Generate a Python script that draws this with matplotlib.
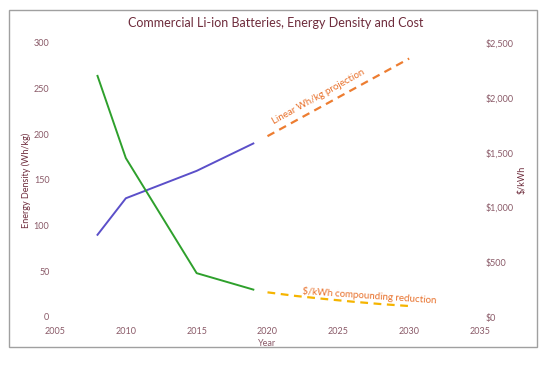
import matplotlib.pyplot as plt
from matplotlib.ticker import FuncFormatter
from matplotlib.patches import Rectangle

plt.rcParams['font.family'] = ['Lato', 'DejaVu Sans']

# energy density (Wh/kg), left axis
years_wh = [2008, 2010, 2015, 2019]
wh_kg = [90, 130, 160, 190]
# cost ($/kWh), right axis
years_cost = [2008, 2010, 2015, 2019]
cost = [2200, 1450, 400, 250]
# projections
proj_years_wh = [2020, 2030]
proj_wh = [198, 283]
proj_years_cost = [2020, 2022, 2024, 2026, 2028, 2030]
proj_cost = [225, 192, 165, 140, 118, 100]

text_col = '#8a5a68'
title_col = '#6e2c3c'
orange = '#ed7d31'
gold = '#f5b400'

fig = plt.figure(figsize=(5.51, 3.69), dpi=100)
fig.patches.append(Rectangle((9/551, 1-347/369), 528/551, 337/369, transform=fig.transFigure,
                             fill=False, edgecolor='#a0a0a0', linewidth=1))
ax = fig.add_axes([55/551, 1-317/369, 425/551, 274/369])
ax2 = ax.twinx()

ax.plot(years_wh, wh_kg, color='#5b4fc9', lw=1.4)
ax.plot(proj_years_wh, proj_wh, color=orange, lw=1.6, ls=(0, (3.5, 2.5)))
ax2.plot(years_cost, cost, color='#2ea02c', lw=1.4)
ax2.plot(proj_years_cost, proj_cost, color=gold, lw=1.6, ls=(0, (3.5, 2.5)))

ax.set_xlim(2005, 2035)
ax.set_ylim(0, 300)
ax2.set_ylim(0, 2500)
ax.set_xticks(range(2005, 2040, 5))
ax.set_yticks(range(0, 301, 50))
ax2.set_yticks(range(0, 2501, 500))
ax2.yaxis.set_major_formatter(FuncFormatter(lambda v, p: '${:,.0f}'.format(v)))

for a in (ax, ax2):
    for s in a.spines.values():
        s.set_visible(False)
    a.tick_params(length=0, labelsize=6.5, labelcolor=text_col)
ax.tick_params(axis='y', pad=4)
ax2.tick_params(axis='y', pad=4)
ax.tick_params(axis='x', pad=7)

ax.set_xlabel('Year', fontsize=6.5, color=text_col, labelpad=2)
ax.set_ylabel('Energy Density (Wh/kg)', fontsize=6.5, color=title_col, labelpad=2)
ax2.set_ylabel('$/kWh', fontsize=6.5, color=title_col, labelpad=3)

fig.text(0.5, 1-23/369, 'Commercial Li-ion Batteries, Energy Density and Cost',
         ha='center', va='center', fontsize=9, color=title_col)

ax.text(2023.6, 241, 'Linear Wh/kg projection', rotation=29, ha='center', va='center',
        fontsize=7, color='#e8702a')
ax2.text(2027.2, 190, '$/kWh compounding reduction', rotation=-4, ha='center', va='center',
         fontsize=7, color='#e8702a')

fig.savefig('out.png', dpi=100)
